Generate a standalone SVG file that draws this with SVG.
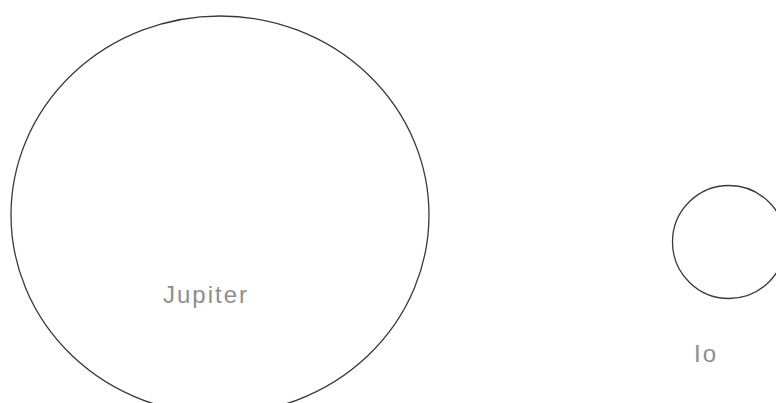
<svg xmlns="http://www.w3.org/2000/svg" width="776" height="403" viewBox="0 0 776 403">
<style>
.body{fill:none;stroke:#3a3a3a;stroke-width:1.3}
.lbl{font-family:"Liberation Sans",Arial,sans-serif;font-size:24px;fill:#8e8e8e;letter-spacing:2px}
</style>
<rect width="776" height="403" fill="#fff"/>
<g id="jupiter">
<ellipse class="body" cx="220" cy="215" rx="209" ry="199"/>
<text class="lbl" x="206" y="303" text-anchor="middle">Jupiter</text>
</g>
<g id="io">
<circle class="body" cx="729" cy="242" r="56.5"/>
<text class="lbl" x="706" y="362" text-anchor="middle">Io</text>
</g>
<g id="connectors"></g>
</svg>
